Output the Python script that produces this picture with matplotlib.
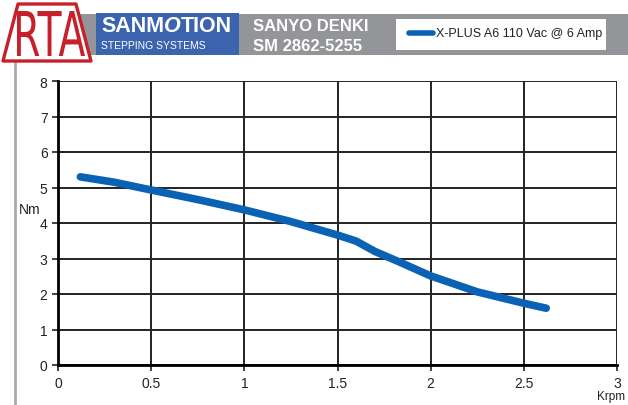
import matplotlib.pyplot as plt
from matplotlib.patches import Rectangle, Polygon, PathPatch
from matplotlib.lines import Line2D
from matplotlib.textpath import TextPath
from matplotlib.font_manager import FontProperties
from matplotlib.transforms import Affine2D

speed_krpm = [0.12, 0.3, 0.5, 0.75, 1.0, 1.25, 1.5, 1.6, 1.7, 1.82, 2.0, 2.25, 2.5, 2.62]
torque_nm = [5.3, 5.15, 4.93, 4.66, 4.37, 4.04, 3.66, 3.49, 3.2, 2.93, 2.51, 2.06, 1.74, 1.6]
x_ticks = [0, 0.5, 1, 1.5, 2, 2.5, 3]
x_labels = ["0", "0.5", "1", "1.5", "2", "2.5", "3"]
y_ticks = [0, 1, 2, 3, 4, 5, 6, 7, 8]
series_label = "X-PLUS A6 110 Vac @ 6 Amp"

blue = "#0a62b4"
red = "#c8202a"
plt.rcParams["font.family"] = ["Liberation Sans", "DejaVu Sans"]

W, H = 628, 406
fig = plt.figure(figsize=(W / 100, H / 100), dpi=100)


def fx(px):
    return px / W


def fy(py):
    return 1 - py / H


# header band
fig.patches.append(Rectangle((fx(80), fy(56)), fx(548), 41 / H, transform=fig.transFigure,
                             facecolor="#949599", edgecolor="none", zorder=0))
fig.patches.append(Rectangle((fx(96), fy(56)), fx(143), 42 / H, transform=fig.transFigure,
                             facecolor="#3c64ae", edgecolor="none", zorder=1))
fig.patches.append(Rectangle((fx(396), fy(51)), fx(210), 31 / H, transform=fig.transFigure,
                             facecolor="white", edgecolor="none", zorder=1))
# left grey rule
fig.lines.append(Line2D([fx(15), fx(15)], [fy(62), 0], transform=fig.transFigure,
                        color="#aaaaaa", lw=2))

# logo: rounded trapezoid with tall thin letters
fig.patches.append(Polygon([(fx(3), fy(62)), (fx(91), fy(62)), (fx(76), fy(5)), (fx(18), fy(5))],
                           closed=True, transform=fig.transFigure, facecolor="white",
                           edgecolor=red, lw=2.4, joinstyle="round", zorder=3))
tp = TextPath((0, 0), "RTA", size=10, prop=FontProperties(family="Liberation Sans Narrow"))
bb = tp.get_extents()
sx = (85 - 17) / bb.width
sy = (57 - 12) / bb.height
# pixel coordinates (origin bottom-left) -> figure fraction
tr = (Affine2D().translate(-bb.x0, -bb.y0).scale(sx, sy)
      .translate(17, H - 57).scale(1 / W, 1 / H) + fig.transFigure)
fig.patches.append(PathPatch(tp, transform=tr, facecolor=red, edgecolor="none", zorder=4))

t1 = fig.text(fx(101), fy(37), "SANM", color="white", fontsize=15.5, fontweight="bold",
              va="bottom", zorder=5)
t2 = fig.text(0, 0, "O", color="white", fontsize=15.5, fontweight="bold", style="italic",
              va="bottom", zorder=5)
t3 = fig.text(0, 0, "TION", color="white", fontsize=15.5, fontweight="bold", va="bottom", zorder=5)
fig.canvas.draw()
r = fig.canvas.get_renderer()
e1 = t1.get_window_extent(r)
t2.set_position((e1.x1 / fig.bbox.width, fy(37)))
e2 = t2.get_window_extent(r)
t3.set_position((e2.x1 / fig.bbox.width, fy(37)))
fig.text(fx(101), fy(49), "STEPPING SYSTEMS", color="white", fontsize=7.5, va="baseline", zorder=5)
fig.text(fx(253), fy(31), "SANYO DENKI", color="white", fontsize=12, fontweight="bold", va="baseline", zorder=5)
fig.text(fx(253), fy(51), "SM 2862-5255", color="white", fontsize=12, fontweight="bold", va="baseline", zorder=5)

fig.lines.append(Line2D([fx(409), fx(433)], [fy(34), fy(34)], transform=fig.transFigure,
                        color=blue, lw=4, solid_capstyle="round", zorder=6))
fig.text(fx(436), fy(34), series_label, fontsize=9, color="#222222", va="center", zorder=6)

ax = fig.add_axes([fx(58), fy(366), fx(559), (366 - 82) / H])
ax.plot(speed_krpm, torque_nm, color=blue, lw=5.5, solid_capstyle="round", zorder=3)
ax.set_xlim(0, 3)
ax.set_ylim(0, 8)
ax.set_xticks(x_ticks)
ax.set_xticklabels(x_labels)
ax.set_yticks(y_ticks)
ax.grid(True, color="#222222", lw=1.4)
for s in ["top", "right"]:
    ax.spines[s].set_visible(False)
ax.spines["left"].set_linewidth(2)
ax.spines["bottom"].set_linewidth(2)
ax.tick_params(axis="both", labelsize=10, colors="#222222", length=4, width=1.2)
ax.tick_params(axis="x", pad=4)
ax.set_ylabel("Nm", rotation=0, fontsize=10, color="#222222", va="center")
ax.yaxis.set_label_coords(-0.05, 0.55)
fig.text(fx(611), fy(397), "Krpm", fontsize=8.5, color="#222222", ha="center", va="center")

fig.savefig("out.png", dpi=100)
